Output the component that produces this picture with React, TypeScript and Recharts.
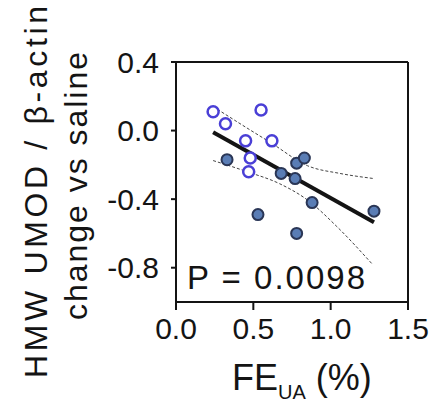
import {
  ComposedChart,
  Scatter,
  Line,
  XAxis,
  YAxis,
  ReferenceLine,
} from 'recharts';

// FE_UA (%) vs HMW UMOD change, open = one group, filled = other
const openPoints = [
  { x: 0.24, y: 0.11 },
  { x: 0.55, y: 0.12 },
  { x: 0.32, y: 0.04 },
  { x: 0.45, y: -0.06 },
  { x: 0.62, y: -0.06 },
  { x: 0.48, y: -0.16 },
  { x: 0.47, y: -0.24 },
];

const filledPoints = [
  { x: 0.33, y: -0.17 },
  { x: 0.68, y: -0.25 },
  { x: 0.77, y: -0.28 },
  { x: 0.78, y: -0.19 },
  { x: 0.83, y: -0.16 },
  { x: 0.88, y: -0.42 },
  { x: 0.53, y: -0.49 },
  { x: 0.78, y: -0.6 },
  { x: 1.28, y: -0.47 },
];

const fitLine = [
  { x: 0.24, y: -0.01 },
  { x: 1.28, y: -0.535 },
];

const upperBand = [
  { x: 0.24, y: 0.14 },
  { x: 0.45, y: 0.02 },
  { x: 0.62, y: -0.075 },
  { x: 0.85, y: -0.205 },
  { x: 1.06, y: -0.25 },
  { x: 1.28, y: -0.28 },
];

const lowerBand = [
  { x: 0.24, y: -0.175 },
  { x: 0.46, y: -0.24 },
  { x: 0.67, y: -0.31 },
  { x: 0.85, y: -0.405 },
  { x: 1.04, y: -0.56 },
  { x: 1.27, y: -0.78 },
];

const xTicks = [0, 0.5, 1.0, 1.5];
const yTicks = [0.4, 0, -0.4, -0.8];

const FONT = '"Liberation Sans", Arial, sans-serif';
const INK = '#141414';

const OpenDot = (props: any) => (
  <circle cx={props.cx} cy={props.cy} r={5.5} fill="#fff" stroke="#4a3fd6" strokeWidth={2.5} />
);

const FilledDot = (props: any) => (
  <circle cx={props.cx} cy={props.cy} r={5.5} fill="#5a7db5" stroke="#2a3656" strokeWidth={2} />
);

const YTitle = () => (
  <g fontFamily={FONT} fill={INK}>
    <text
      x={47}
      y={192}
      fontSize={32}
      textAnchor="middle"
      textLength={372}
      lengthAdjust="spacing"
      transform="rotate(-90, 47, 192)"
    >
      HMW UMOD / β-actin
    </text>
    <text
      x={87}
      y={186}
      fontSize={32}
      textAnchor="middle"
      textLength={268}
      lengthAdjust="spacing"
      transform="rotate(-90, 87, 186)"
    >
      change vs saline
    </text>
  </g>
);

const XTitle = () => (
  <g fontFamily={FONT} fill={INK}>
    <text x={187} y={289} fontSize={33} textLength={178} lengthAdjust="spacing">
      P = 0.0098
    </text>
    <text x={232} y={390} fontSize={36}>
      <tspan>FE</tspan>
      <tspan fontSize={20} dy={9}>UA</tspan>
      <tspan dy={-9} dx={10}>(%)</tspan>
    </text>
  </g>
);

export default function App() {
  return (
    <div style={{ position: 'absolute', left: 0, top: 0, width: 441, height: 408, background: '#fff' }}>
      <ComposedChart width={441} height={408} margin={{ top: 62, right: 33, bottom: 0, left: 0 }}>
        <XAxis
          type="number"
          dataKey="x"
          domain={[0, 1.5]}
          ticks={xTicks}
          tickFormatter={(v) => Number(v).toFixed(1)}
          axisLine={{ stroke: INK, strokeWidth: 2 }}
          tickLine={{ stroke: INK, strokeWidth: 2 }}
          tickSize={8}
          tickMargin={8}
          tick={{ fill: INK, fontSize: 30, fontFamily: FONT }}
          height={106}
          label={{ content: XTitle }}
        />
        <YAxis
          type="number"
          dataKey="y"
          domain={[-1.0, 0.4]}
          ticks={yTicks}
          tickFormatter={(v) => Number(v).toFixed(1)}
          axisLine={{ stroke: INK, strokeWidth: 2 }}
          tickLine={{ stroke: INK, strokeWidth: 2 }}
          tickSize={5}
          tickMargin={12}
          tick={{ fill: INK, fontSize: 30, fontFamily: FONT }}
          width={176}
          label={{ content: YTitle }}
        />
        <ReferenceLine y={0.4} stroke={INK} strokeWidth={2} />
        <ReferenceLine x={1.5} stroke={INK} strokeWidth={2} />
        <Line
          data={upperBand}
          dataKey="y"
          type="monotone"
          stroke="#444"
          strokeWidth={1}
          strokeDasharray="3 2"
          dot={false}
          isAnimationActive={false}
        />
        <Line
          data={lowerBand}
          dataKey="y"
          type="monotone"
          stroke="#444"
          strokeWidth={1}
          strokeDasharray="3 2"
          dot={false}
          isAnimationActive={false}
        />
        <Line
          data={fitLine}
          dataKey="y"
          type="linear"
          stroke={INK}
          strokeWidth={4}
          dot={false}
          isAnimationActive={false}
        />
        <Scatter data={filledPoints} dataKey="y" shape={FilledDot} isAnimationActive={false} />
        <Scatter data={openPoints} dataKey="y" shape={OpenDot} isAnimationActive={false} />
      </ComposedChart>
    </div>
  );
}
